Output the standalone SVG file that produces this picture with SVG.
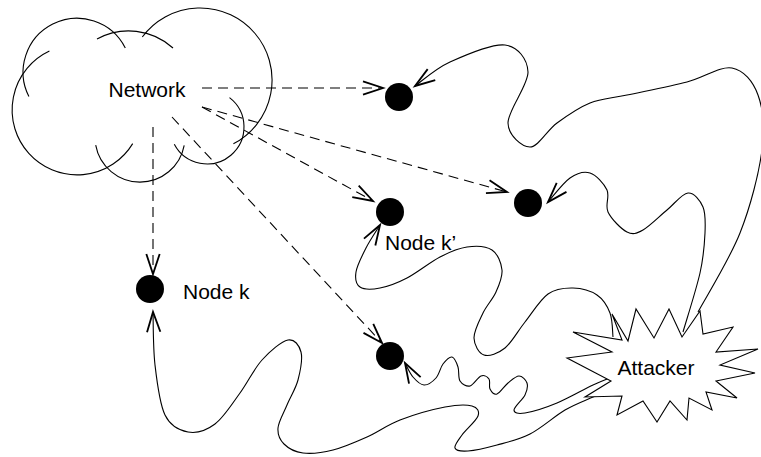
<svg xmlns="http://www.w3.org/2000/svg" width="761" height="457" viewBox="0 0 761 457">
<style>
.cloud{fill:none;stroke:#000;stroke-width:1.1}
.dash{fill:none;stroke:#000;stroke-width:1.1;stroke-dasharray:10 6;marker-end:url(#arr)}
.wave{fill:none;stroke:#000;stroke-width:1.1;marker-end:url(#arr)}
.node{fill:#000}
.lbl{font-family:"Liberation Sans",Arial,sans-serif;font-size:21px;fill:#000}
</style>
<defs>
<marker id="arr" markerUnits="userSpaceOnUse" markerWidth="30" markerHeight="30" refX="0" refY="0" viewBox="-16 -8 18 16" orient="auto" overflow="visible">
<path d="M-12,-4 L0,0 L-12,4" fill="none" stroke="#000" stroke-width="1.1"/>
</marker>
</defs>
<rect width="761" height="457" fill="#fff"/>
<g id="network">
<path class="cloud" d="M49.4,51.1 A65,65 0 1 0 132.7,143.6"/>
<path class="cloud" d="M28.9,96.6 A54,54 0 0 1 125.3,47.9"/>
<path class="cloud" d="M97,39 A66,66 0 0 1 173,48"/>
<path class="cloud" d="M142.3,37 A72,72 0 1 1 233.4,143.8"/>
<path class="cloud" d="M95.7,145.2 A45,45 0 0 0 184.2,145.4"/>
<path class="cloud" d="M174.3,144.3 A37,37 0 1 0 229.5,97.6"/>
<text class="lbl" x="147" y="97" text-anchor="middle">Network</text>
</g>
<g id="connectors">
<path class="dash" d="M202,88 L383,88"/>
<path class="dash" d="M202,107 L507,192"/>
<path class="dash" d="M202,107 L373,201"/>
<path class="dash" d="M172,117 L382,343"/>
<path class="dash" d="M153,127 L153,274"/>
<path class="wave" d="M698,312 C705,298.8 729.3,260 740,233 C750.7,206 759,173 762,150 C765,127 763,108.7 758,95 C753,81.3 743.8,70.2 732,68 C720.2,65.8 704.5,77.5 687,82 C669.5,86.5 643.2,91.5 627,95 C610.8,98.5 601.7,98.3 590,103 C578.3,107.7 567,115.7 557,123 C547,130.3 538.2,147 530,147 C521.8,147 508.3,135.5 508,123 C507.7,110.5 528.5,85 528,72 C527.5,59 518,46.7 505,45 C492,43.3 465,55.2 450,62 C435,68.8 420.8,82 415,86"/>
<path class="wave" d="M683,332 C685.8,322.2 696.3,289.5 700,273 C703.7,256.5 704.5,244 705,233 C705.5,222 705.8,213.7 703,207 C700.2,200.3 694,192.5 688,193 C682,193.5 674.5,203.8 667,210 C659.5,216.2 649.7,226.3 643,230 C636.3,233.7 632.8,235 627,232 C621.2,229 611.3,219 608,212 C604.7,205 610,196.5 607,190 C604,183.5 596.2,175 590,173 C583.8,171 577,173.2 570,178 C563,182.8 551.7,198 548,202"/>
<path class="wave" d="M613,337 C612.5,333 612.7,320 610,313 C607.3,306 603.2,299.2 597,295 C590.8,290.8 581.2,288.2 573,288 C564.8,287.8 556,288.3 548,294 C540,299.7 532.2,313 525,322 C517.8,331 511.8,342.5 505,348 C498.2,353.5 489.2,356.7 484,355 C478.8,353.3 474.2,345 474,338 C473.8,331 479.3,320.7 483,313 C486.7,305.3 492.8,299.2 496,292 C499.2,284.8 502.7,277 502,270 C501.3,263 497.8,253.8 492,250 C486.2,246.2 475.7,245.8 467,247 C458.3,248.2 450,251.8 440,257 C430,262.2 417,272.8 407,278 C397,283.2 387.8,286.5 380,288 C372.2,289.5 364,289.7 360,287 C356,284.3 355,278.5 356,272 C357,265.5 362,255.8 366,248 C370,240.2 377.7,228.8 380,225"/>
<path class="wave" d="M612,377 C608.8,378.3 602.2,380.7 593,385 C583.8,389.3 568.3,398.3 557,403 C545.7,407.7 532.2,411.8 525,413 C517.8,414.2 514,413 514,410 C514,407 522.8,399.5 525,395 C527.2,390.5 528,386.2 527,383 C526,379.8 522.2,376 519,376 C515.8,376 511.7,380 508,383 C504.3,386 500,393 497,394 C494,395 491.3,391.5 490,389 C488.7,386.5 490.5,381.2 489,379 C487.5,376.8 484.2,374.8 481,376 C477.8,377.2 473.5,385.2 470,386 C466.5,386.8 462,384.2 460,381 C458,377.8 459.3,371 458,367 C456.7,363 454.5,357.5 452,357 C449.5,356.5 445.7,360.5 443,364 C440.3,367.5 439.2,374.5 436,378 C432.8,381.5 427.8,385.2 424,385 C420.2,384.8 416.2,380.7 413,377 C409.8,373.3 406.3,365.3 405,363"/>
<path class="wave" d="M614,388 C610.5,389.5 601.2,393.3 593,397 C584.8,400.7 575.5,403.8 565,410 C554.5,416.2 541.3,428.2 530,434 C518.7,439.8 507.3,442.2 497,445 C486.7,447.8 475,450.5 468,451 C461,451.5 456,450.7 455,448 C454,445.3 458.2,440.3 462,435 C465.8,429.7 476.3,420.8 478,416 C479.7,411.2 477.5,407.5 472,406 C466.5,404.5 457,404.7 445,407 C433,409.3 413,415 400,420 C387,425 378.2,432 367,437 C355.8,442 343.7,447.3 333,450 C322.3,452.7 311.2,454 303,453 C294.8,452 288.2,448.2 284,444 C279.8,439.8 277.5,434.5 278,428 C278.5,421.5 283.7,413 287,405 C290.3,397 295.7,388.8 298,380 C300.3,371.2 302.7,358.7 301,352 C299.3,345.3 294.5,338.7 288,340 C281.5,341.3 270,351.2 262,360 C254,368.8 247.8,382.3 240,393 C232.2,403.7 223.7,417.5 215,424 C206.3,430.5 196.3,433.5 188,432 C179.7,430.5 170.5,426.2 165,415 C159.5,403.8 157,382.2 155,365 C153,347.8 153.3,320.8 153,312"/>
</g>
<g id="node1"><circle class="node" cx="399" cy="97" r="14"/></g>
<g id="node2"><circle class="node" cx="528" cy="203" r="14"/></g>
<g id="nodek2"><circle class="node" cx="390" cy="212" r="14"/><text class="lbl" x="385" y="250">Node k’</text></g>
<g id="nodek"><circle class="node" cx="150" cy="289" r="14"/><text class="lbl" x="183" y="299">Node k</text></g>
<g id="node5"><circle class="node" cx="390" cy="356" r="14"/></g>
<g id="attacker">
<polygon points="612,314 628,341 636,309 654,338 669,309 682,337 700,311 703,334 733,327 716,352 758,349 720,365 755,373 716,381 737,398 706,392 712,410 689,398 687,420 670,401 657,422 643,401 617,415 622,396 585,397 611,381 567,358 612,352 573,332 622,340" fill="#fff" stroke="#000" stroke-width="1.1"/>
<text class="lbl" x="656" y="375" text-anchor="middle">Attacker</text>
</g>
</svg>
